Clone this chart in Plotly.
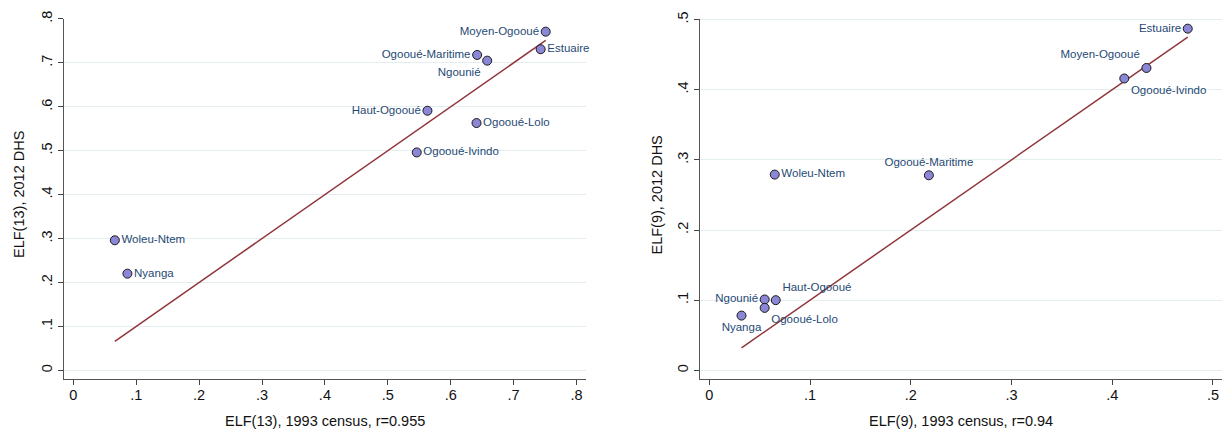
import plotly.graph_objects as go

# ---- data ----
regions_13 = ["Moyen-Ogooué", "Estuaire", "Ogooué-Maritime", "Ngounié", "Haut-Ogooué",
              "Ogooué-Lolo", "Ogooué-Ivindo", "Woleu-Ntem", "Nyanga"]
elf13_1993 = [0.751, 0.743, 0.642, 0.658, 0.563, 0.641, 0.546, 0.066, 0.086]
elf13_2012 = [0.771, 0.731, 0.718, 0.705, 0.591, 0.563, 0.496, 0.296, 0.220]

regions_9 = ["Estuaire", "Moyen-Ogooué", "Ogooué-Ivindo", "Woleu-Ntem", "Ogooué-Maritime",
             "Ngounié", "Haut-Ogooué", "Ogooué-Lolo", "Nyanga"]
elf9_1993 = [0.475, 0.434, 0.412, 0.065, 0.218, 0.055, 0.066, 0.055, 0.032]
elf9_2012 = [0.487, 0.431, 0.416, 0.279, 0.278, 0.101, 0.100, 0.089, 0.078]

ticks_13 = [0, 0.1, 0.2, 0.3, 0.4, 0.5, 0.6, 0.7, 0.8]
ticklabels_13 = ["0", ".1", ".2", ".3", ".4", ".5", ".6", ".7", ".8"]
ticks_9 = [0, 0.1, 0.2, 0.3, 0.4, 0.5]
ticklabels_9 = ["0", ".1", ".2", ".3", ".4", ".5"]

xtitle_13 = "ELF(13), 1993 census, r=0.955"
ytitle_13 = "ELF(13), 2012 DHS"
xtitle_9 = "ELF(9), 1993 census, r=0.94"
ytitle_9 = "ELF(9), 2012 DHS"

# ---- styles ----
pos_13 = ["middle left", "middle right", "middle left", "bottom left", "middle left",
          "middle right", "middle right", "middle right", "middle right"]
pos_9 = ["middle left", "top left", "bottom right", "middle right", "top center",
         "middle left", "top right", "bottom right", "bottom center"]

FONT = "Arial, Liberation Sans, sans-serif"
MARKER = dict(size=9, color="#8b87d6", line=dict(color="#1a1a1a", width=1))
LABEL_FONT = dict(family=FONT, size=11.5, color="#1f4a75")
LINE = dict(color="#90353b", width=1.5)

fig = go.Figure()

# 45-degree reference line, left panel
lo13, hi13 = min(elf13_1993), max(elf13_1993)
fig.add_trace(go.Scatter(x=[lo13, hi13], y=[lo13, hi13], mode="lines", line=LINE,
                         xaxis="x", yaxis="y", showlegend=False, hoverinfo="skip"))
fig.add_trace(go.Scatter(x=elf13_1993, y=elf13_2012, text=regions_13, mode="markers+text",
                         textposition=pos_13, textfont=LABEL_FONT, marker=MARKER,
                         xaxis="x", yaxis="y", showlegend=False, cliponaxis=False))

lo9, hi9 = min(elf9_1993), max(elf9_1993)
fig.add_trace(go.Scatter(x=[lo9, hi9], y=[lo9, hi9], mode="lines", line=LINE,
                         xaxis="x2", yaxis="y2", showlegend=False, hoverinfo="skip"))
fig.add_trace(go.Scatter(x=elf9_1993, y=elf9_2012, text=regions_9, mode="markers+text",
                         textposition=pos_9, textfont=LABEL_FONT, marker=MARKER,
                         xaxis="x2", yaxis="y2", showlegend=False, cliponaxis=False))

W, H = 1225, 433
def dx(px):
    return px / W
def dy(py):
    return 1 - py / H

common_x = dict(ticks="outside", ticklen=5, tickwidth=1, tickcolor="#444",
                showline=True, linecolor="#555", linewidth=1.2, showgrid=False,
                zeroline=False, automargin=False, ticklabelstandoff=-3,
                tickfont=dict(family=FONT, size=14.5, color="#111"))
common_y = dict(ticks="outside", ticklen=5, tickwidth=1, tickcolor="#444",
                showline=True, linecolor="#555", linewidth=1.2, showgrid=True,
                gridcolor="#e4eef0", gridwidth=1, zeroline=False, tickangle=-90,
                automargin=False,
                tickfont=dict(family=FONT, size=14.5, color="#111"))

fig.update_layout(
    width=W, height=H,
    margin=dict(l=0, r=0, t=0, b=0, autoexpand=False),
    paper_bgcolor="white", plot_bgcolor="white",
    xaxis=dict(domain=[dx(63.7), dx(585.7)], range=[-0.0153, 0.8146], anchor="y",
               tickvals=ticks_13, ticktext=ticklabels_13, **common_x),
    yaxis=dict(domain=[dy(379.3), dy(18.5)], range=[-0.0205, 0.801], anchor="x",
               tickvals=ticks_13, ticktext=ticklabels_13, **common_y),
    xaxis2=dict(domain=[dx(700), dx(1222)], range=[-0.0092, 0.509], anchor="y2",
                tickvals=ticks_9, ticktext=ticklabels_9, **common_x),
    yaxis2=dict(domain=[dy(379.3), dy(18.5)], range=[-0.0128, 0.5015], anchor="x2",
                tickvals=ticks_9, ticktext=ticklabels_9, **common_y),
)

TITLE_FONT = dict(family=FONT, size=14.5, color="#111")
fig.add_annotation(text=xtitle_13, x=dx(324.7), y=dy(421), xref="paper", yref="paper",
                   showarrow=False, font=TITLE_FONT, xanchor="center", yanchor="middle")
fig.add_annotation(text=xtitle_9, x=dx(961), y=dy(421), xref="paper", yref="paper",
                   showarrow=False, font=TITLE_FONT, xanchor="center", yanchor="middle")
fig.add_annotation(text=ytitle_13, x=dx(19), y=dy(195), xref="paper", yref="paper",
                   showarrow=False, font=TITLE_FONT, textangle=-90,
                   xanchor="center", yanchor="middle")
fig.add_annotation(text=ytitle_9, x=dx(656.5), y=dy(195), xref="paper", yref="paper",
                   showarrow=False, font=TITLE_FONT, textangle=-90,
                   xanchor="center", yanchor="middle")

fig.write_html("out.html")
